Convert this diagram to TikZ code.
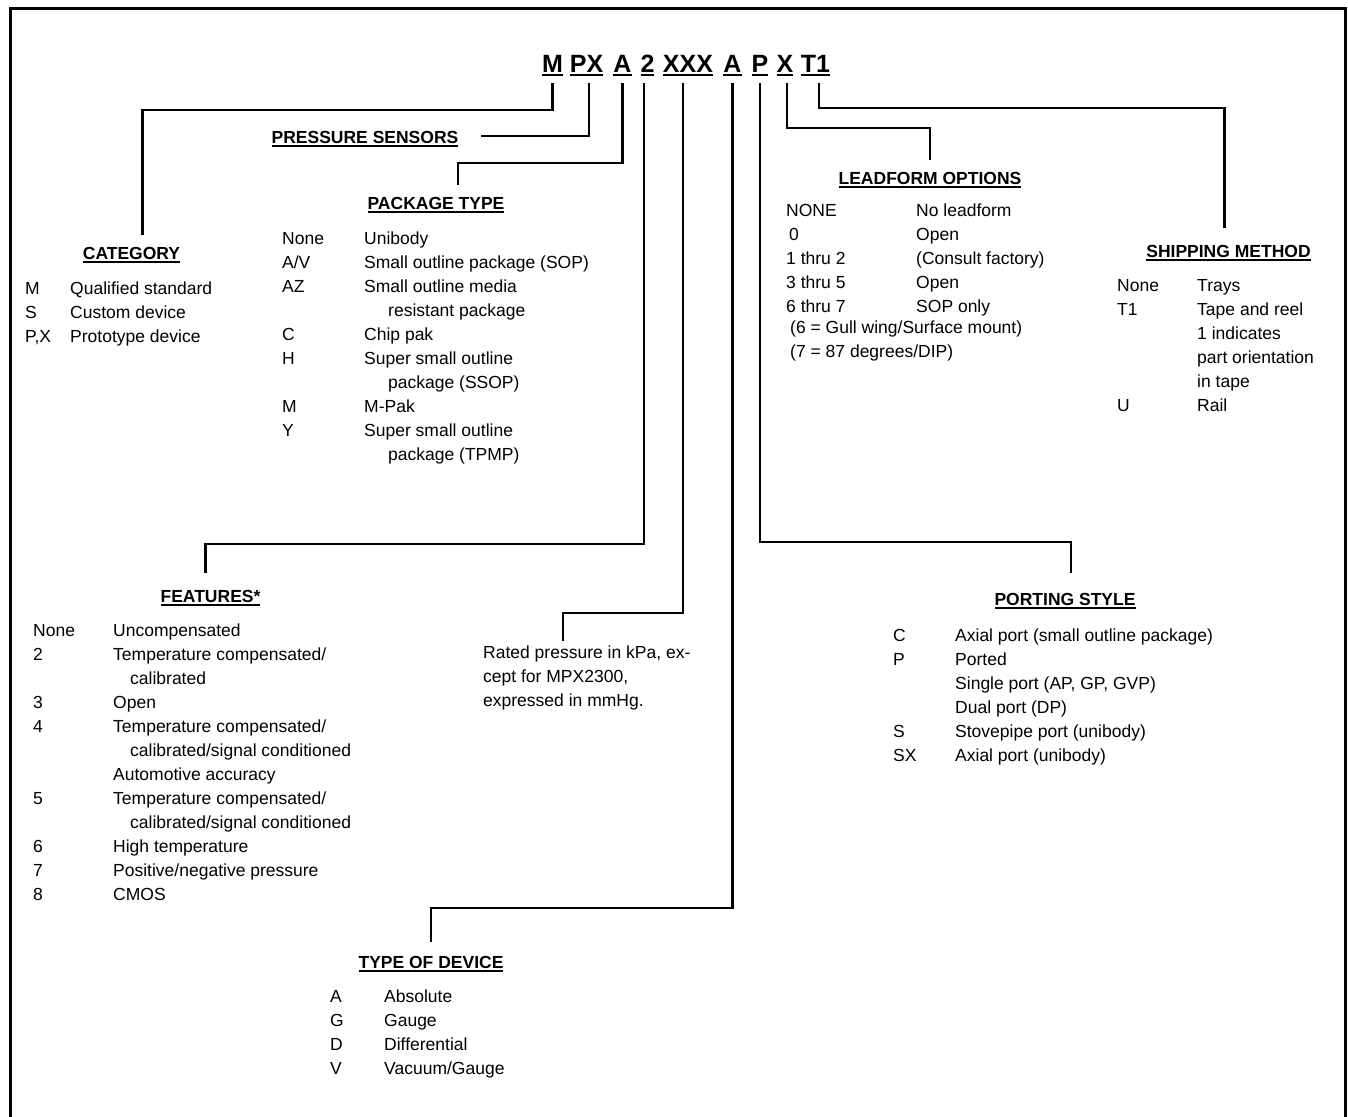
\documentclass[tikz,border=0pt]{standalone}
\usepackage{fontspec}
\setmainfont{Liberation Sans}
\usepackage{array}
% underlined label: rule drawn under the box, #1 = gap below baseline
\newcommand{\ulx}[2][2pt]{\setbox0=\hbox{#2}\rlap{\vrule height -#1 depth \dimexpr #1+2.3pt\relax width \wd0}\box0}

\begin{document}
\begin{tikzpicture}[x=1pt,y=-1pt,
  code/.style={font=\bfseries\fontsize{25}{30}\selectfont,inner sep=0pt,anchor=base},
  hdr/.style={font=\bfseries\fontsize{17.5}{21}\selectfont,inner sep=0pt,anchor=base},
  lst/.style={font=\fontsize{17.5}{24}\selectfont,inner sep=0pt,anchor=base west},
  lead/.style={line width=2.5pt,shorten <=6.5pt}]
\useasboundingbox (0,0) rectangle (1348,1116);
\draw[line width=3pt] (10.5,1120) -- (10.5,8.5) -- (1345.5,8.5) -- (1345.5,1120);
% part number
\foreach \n/\s/\x in {tCat/M/552.5,tSens/PX/586.5,tPkg/A/622.5,tFeat/2/647.5,tRate/XXX/688,tType/A/732.5,tPort/P/760,tLead/X/785,tShip/T1/815.5}
  \node[code] (\n) at (\x,73) {\ulx[1.2pt]{\s}};
% headings
\node[hdr] (hSens) at (365,143) {\ulx{PRESSURE SENSORS}};
\node[hdr] (hCat) at (131.5,259) {\ulx{CATEGORY}};
\node[hdr] (hPkg) at (436,209) {\ulx{PACKAGE TYPE}};
\node[hdr] (hLead) at (930,184) {\ulx{LEADFORM OPTIONS}};
\node[hdr] (hShip) at (1228.5,257) {\ulx{SHIPPING METHOD}};
\node[hdr] (hFeat) at (210.5,602) {\ulx{FEATURES*}};
\node[hdr] (hPort) at (1065,605) {\ulx{PORTING STYLE}};
\node[hdr] (hType) at (431,968) {\ulx{TYPE OF DEVICE}};
% option lists
\node[lst] (lCat) at (25,294) {\begin{tabular}[t]{@{}p{45pt}@{}l@{}}
M&Qualified standard\\S&Custom device\\P,X&Prototype device\end{tabular}};
\node[lst] (lPkg) at (282,244) {\begin{tabular}[t]{@{}p{82pt}@{}l@{}}
None&Unibody\\A/V&Small outline package (SOP)\\AZ&Small outline media\\&\hspace{24pt}resistant package\\
C&Chip pak\\H&Super small outline\\&\hspace{24pt}package (SSOP)\\M&M-Pak\\Y&Super small outline\\&\hspace{24pt}package (TPMP)\end{tabular}};
\node[lst] (lLead) at (786,216) {\begin{tabular}[t]{@{}p{130pt}@{}l@{}}
NONE&No leadform\\\hspace{3pt}0&Open\\1 thru 2&(Consult factory)\\3 thru 5&Open\\6 thru 7&SOP only\\[-3pt]
\multicolumn{2}{@{}l@{}}{\hspace{4pt}(6 = Gull wing/Surface mount)}\\\multicolumn{2}{@{}l@{}}{\hspace{4pt}(7 = 87 degrees/DIP)}\end{tabular}};
\node[lst] (lShip) at (1117,291) {\begin{tabular}[t]{@{}p{80pt}@{}l@{}}
None&Trays\\T1&Tape and reel\\&1 indicates\\&part orientation\\&in tape\\U&Rail\end{tabular}};
\node[lst] (lFeat) at (33,636) {\begin{tabular}[t]{@{}p{80pt}@{}l@{}}
None&Uncompensated\\2&Temperature compensated/\\&\hspace{17pt}calibrated\\3&Open\\4&Temperature compensated/\\
&\hspace{17pt}calibrated/signal conditioned\\&Automotive accuracy\\5&Temperature compensated/\\
&\hspace{17pt}calibrated/signal conditioned\\6&High temperature\\7&Positive/negative pressure\\8&CMOS\end{tabular}};
\node[lst] (lRate) at (483,658) {\begin{tabular}[t]{@{}l@{}}
Rated pressure in kPa, ex-\\cept for MPX2300,\\expressed in mmHg.\end{tabular}};
\node[lst] (lPort) at (893,641) {\begin{tabular}[t]{@{}p{62pt}@{}l@{}}
C&Axial port (small outline package)\\P&Ported\\&Single port (AP, GP, GVP)\\&Dual port (DP)\\
S&Stovepipe port (unibody)\\SX&Axial port (unibody)\end{tabular}};
\node[lst] (lType) at (330,1002) {\begin{tabular}[t]{@{}p{54pt}@{}l@{}}
A&Absolute\\G&Gauge\\D&Differential\\V&Vacuum/Gauge\end{tabular}};
% leaders
\draw[lead,shorten >=11.5pt] (tCat.south) -- (tCat.south |- 0,110) -| ([xshift=11pt]hCat.north);
\draw[lead,shorten >=22pt] ([xshift=2.5pt]tSens.south) |- ([yshift=3pt]hSens.east);
\draw[lead,shorten >=11.5pt] (tPkg.south) -- (tPkg.south |- 0,163) -| ([xshift=22pt]hPkg.north);
\draw[lead,shorten >=16.5pt] ([xshift=-3.5pt]tFeat.south) -- ([xshift=-3.5pt]tFeat.south |- 0,544) -| ([xshift=-5pt]hFeat.north);
\draw[lead] ([xshift=-5pt]tRate.south) -- ([xshift=-5pt]tRate.south |- 0,613) -| ([xshift=80pt]lRate.north west);
\draw[lead,shorten >=13.5pt] (tType.south) -- (tType.south |- 0,908) -| (hType.north);
\draw[lead,shorten >=19.5pt] (tPort.south) -- (tPort.south |- 0,542) -| ([xshift=6pt]hPort.north);
\draw[lead,shorten >=11.5pt] ([xshift=2pt]tLead.south) -- ([xshift=2pt]tLead.south |- 0,128) -| (hLead.north);
\draw[lead,shorten >=16.5pt] ([xshift=3.5pt]tShip.south) -- ([xshift=3.5pt]tShip.south |- 0,108) -| ([xshift=-4pt]hShip.north);
\end{tikzpicture}
\end{document}
